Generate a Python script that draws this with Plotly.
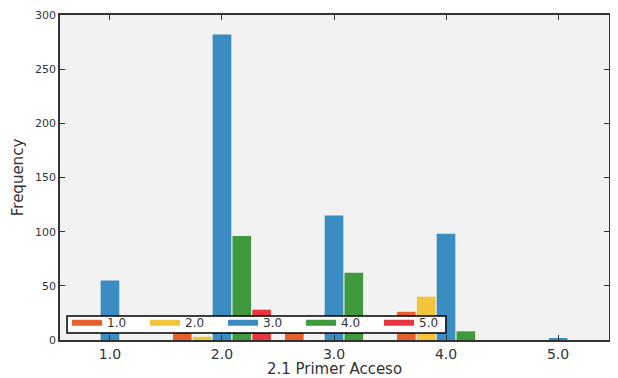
import plotly.graph_objects as go

categories = [1, 2, 3, 4, 5]
tick_labels = ["1.0", "2.0", "3.0", "4.0", "5.0"]
series_names = ["1.0", "2.0", "3.0", "4.0", "5.0"]
vals_1 = [0, 10, 7, 26, 0]
vals_2 = [0, 3, 0, 40, 0]
vals_3 = [55, 282, 115, 98, 1]
vals_4 = [0, 96, 62, 8, 0]
vals_5 = [0, 28, 0, 0, 0]
series_vals = [vals_1, vals_2, vals_3, vals_4, vals_5]
colors = ["#E8602C", "#F2C53A", "#3A8CC1", "#3F9A3D", "#E8363F"]

fig = go.Figure()
for name, vals, col in zip(series_names, series_vals, colors):
    fig.add_trace(go.Bar(x=categories, y=vals, name=name, marker=dict(color=col, line=dict(width=0)),
                         showlegend=False))
for name, col in zip(series_names, colors):
    fig.add_trace(go.Scatter(x=[None], y=[None], mode="lines", name=name,
                             line=dict(color=col, width=6), showlegend=True))

axis_common = dict(showline=True, linecolor="#333333", linewidth=1.5, mirror="ticks",
                   ticks="inside", ticklen=5, tickcolor="#333333", showgrid=False, zeroline=False)

# page body has an 8px margin, so the figure is 610x370 placed at (8, 8)
fig.update_layout(
    width=610, height=370,
    margin=dict(l=52, r=9, t=7, b=38, autoexpand=False),
    paper_bgcolor="white", plot_bgcolor="#F2F2F2",
    barmode="group", bargap=0.115, bargroupgap=0.06,
    font=dict(family="DejaVu Sans", color="#333333"),
    xaxis=dict(range=[0.554, 5.455], tickvals=categories, ticktext=tick_labels,
               tickfont=dict(size=14), title=dict(text="2.1 Primer Acceso", font=dict(size=15), standoff=2),
               automargin=False, **axis_common),
    yaxis=dict(range=[0, 300], tickvals=[0, 50, 100, 150, 200, 250, 300], tickfont=dict(size=11),
               title=dict(text="Frequency", font=dict(size=15), standoff=8), automargin=False,
               **axis_common),
    legend=dict(orientation="h", x=0.0128, xanchor="left", y=0.098, yanchor="top",
                bgcolor="rgba(0,0,0,0)", borderwidth=0,
                font=dict(size=12, color="#333333"), entrywidth=33, entrywidthmode="pixels",
                itemwidth=30, tracegroupgap=0),
    shapes=[dict(type="rect", xref="paper", yref="paper", x0=0.0128, x1=0.703, y0=0.0215, y1=0.0738,
                 fillcolor="white", line=dict(color="black", width=1.5), layer="above")],
    annotations=[dict(text="sofastatistics.com", x=1.0, xref="paper", xanchor="center", xshift=5,
                      y=0.31, yref="paper", yanchor="middle", textangle=90, showarrow=False,
                      font=dict(size=10, color="#333333"))],
)

fig.write_html("out.html")
